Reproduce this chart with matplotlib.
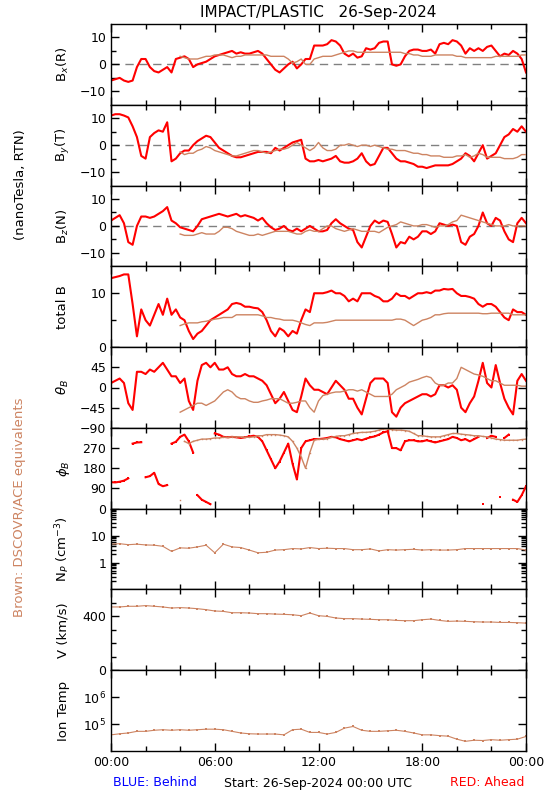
import numpy as np
import matplotlib
matplotlib.use("Agg")
import matplotlib.pyplot as plt
from matplotlib.ticker import FixedLocator, LogLocator, NullFormatter

nan = np.nan

# time grids in hours from 26-Sep-2024 00:00 UTC
t_mag = np.arange(97) * 0.25
t_pla = np.arange(49) * 0.5

# magnetic field, STEREO Ahead (red), 15 min samples
bx_red = [-6, -5.5, -5, -6, -6.5, -6, -1, 2, 2, -1, -2.5, -3, -2, -1, -3, 2,
          2.5, 3, 2, -1, 0, 0.5, 1, 2, 3, 3.5, 4, 4.5, 5, 4, 4.5, 4,
          4, 4.5, 5, 4, 2, 0, -2, -3, -1.5, 0, 1, -1.5, 0, 2, 2, 7,
          7, 7, 7.5, 9, 8.5, 7, 4, 3, 4, 2.5, 3, 6, 5.5, 6, 8, 8.5,
          8.5, 0, -0.5, 0, 3, 5, 5.5, 5.5, 5, 5, 5.5, 4, 7.5, 8, 7.5, 9,
          8.5, 7, 4, 6, 5, 6, 5, 6.5, 7, 5, 3, 4, 3.5, 5, 4, 2, -3]
by_red = [11, 11.5, 11.5, 11, 10.3, 7, 3, -4, -5, 3, 4.5, 5.5, 5, 8.5, -6, -5,
          -3, -2, -2, 0, 1.5, 2.5, 3.5, 3, 1, -1, -2, -3, -4, -4.5, -4.5, -4,
          -3.5, -3, -2.5, -2.5, -2.5, -3, -1, -2, -1, 0, 1, 1.5, 2, -5, -6, -6,
          -5.5, -6, -5.5, -5, -4, -6, -6.5, -6.5, -6, -5, -3, -6, -7.5, -7, -4, -1,
          -1, -3, -5, -6, -6, -6.5, -7, -8, -8, -8.5, -8, -7.5, -7.5, -7.5, -7.5, -7,
          -6, -5, -3, -4, -6, -3, 0, -5, -4, -3, 0, 3, 4, 6, 5, 7, 5]
bz_red = [2, 3, 4, 1, -6, -7, 0, 3.5, 3.5, 3, 3.5, 4.5, 5.5, 7, 2, 1,
          -0.5, -1, -1.5, -2, 0, 2.5, 3, 3.5, 4, 4.5, 4, 3.5, 4, 4.5, 3.5, 4,
          3.5, 3, 2, 3, 1, -0.5, -1.5, -1, 0, -1.5, -2, -1, -2, -1, 0, -1,
          -2, -2, -1.5, 1, 2.5, 1, 0, -1, -1.5, -6, -8, -4, 0, 2, 1, 2,
          1.5, -3, -8, -6, -6.5, -4, -5, -4, -2, -2, -3, -2, 1, 0.5, 0, 0.5,
          0, -6, -7, -4, -3, 0, 5, 1, 0, 3, 2, -2, -5, -6, 1, 3, 1]
bt_red = [12.8, 13, 13.2, 13.5, 13.5, 8, 2, 7, 5, 4, 6, 8, 6, 9, 6, 7,
          5.5, 5, 3, 1.5, 2.5, 3, 4, 5, 5.5, 6, 6.5, 7, 8, 8.2, 8, 7.5,
          7.5, 7.3, 7.2, 6.5, 5, 3, 2, 3.5, 3, 2, 3, 2.5, 5, 7, 6.5, 10,
          10, 10, 10.2, 10.5, 10, 10, 9.5, 8.5, 9, 8.5, 10, 10, 10, 9.5, 9.2, 8.5,
          8.5, 9, 10, 9.5, 9.5, 9, 9.5, 10, 10, 10.2, 10, 10.5, 10.5, 10.8, 10.7, 10.8,
          10, 9.5, 9.5, 9.3, 9, 8, 7.5, 8, 8, 7.5, 6.5, 5.5, 5, 7, 6.5, 6.5, 6]
th_red = [10, 15, 20, 10, -35, -50, 35, 35, 30, 40, 35, 45, 55, 40, 25, 25,
          10, 20, -30, -50, 15, 50, 55, 45, 55, 40, 40, 45, 30, 25, 25, 30,
          25, 25, 20, 15, 5, -15, -35, -25, -10, -30, -50, -55, -20, 20, 5, -5,
          -5, -10, -15, 0, 15, 5, -5, -25, -25, -45, -60, -25, 10, 20, 20, 20,
          10, -55, -65, -45, -35, -30, -25, -20, -15, -15, -20, -15, 5, 5, 0, 5,
          -5, -45, -55, -35, -20, 15, 55, 10, 0, 50, 10, -25, -45, -60, 15, 30, 15]
ph_red = [118, 117, 120, 125, 135, 290, 295, 296, 140, 145, 160, 110, 100, 105, 290, 298,
          320, 330, 300, 250, 60, 40, 30, 20, 335, 330, 320, 318, 320, 318, 315, 318,
          322, 325, 320, 300, 260, 220, 180, 210, 250, 290, 200, 130, 270, 300, 305, 310,
          310, 312, 315, 320, 318, 310, 305, 300, 305, 310, 305, 312, 318, 322, 330, 340,
          345, 270, 270, 260, 300, 305, 305, 300, 300, 305, 300, 295, 300, 305, 310, 320,
          315, 305, 310, 300, 310, 320, 20, 315, 325, 320, 50, 315, 330, 40, 30, 60, 100]

# DSCOVR/ACE equivalents (brown), 15 min samples, none before 04:00
gap = [nan] * 16
bx_brn = gap + [3, 2.5, 2, 2, 2, 2.5, 3, 3, 3.5, 3.5, 3.5, 3, 2.5, 3, 3, 3.5,
                3.5, 3.5, 3.5, 3.5, 3.5, 3, 3, 3, 3, 2, 0.5, 1, 2, 0, 0, 2,
                2.5, 3, 3, 3, 3.5, 4, 4.5, 5, 5, 4.5, 4.5, 4.5, 4.5, 4.5, 4.5, 4.5,
                4.5, 4.5, 4.5, 4.5, 4, 4, 3.5, 3.5, 3, 3, 3, 3.5, 3.5, 3.5, 3.5, 3.5,
                3, 3, 2.5, 2.5, 2.5, 2.5, 2.5, 2.5, 2.5, 3, 3, 3, 3, 3, 3, 3.5, 3.5]
by_brn = gap + [-2.5, -3.5, -3, -3, -2, -1.5, -0.5, -1, -2, -2.5, -3, -3.5, -4, -4, -3.5, -3,
                -2.5, -2, -2, -2.5, -3, -2.5, -2, -1.5, -1.5, -1, 0, 1, 0, -1, -2, -1,
                1, -1, -2, -2, -1.5, 0, 0, 0.5, 0, -0.5, 0, 0, -0.5, 0, -0.5, -1,
                -1.5, -1.5, -2, -2, -2, -2.5, -3, -3, -3.5, -3.5, -4, -4, -4, -4.5, -4.5, -4.5,
                -4, -4, -3.5, -4.5, -4, -3, -3.5, -4.5, -4.5, -4.5, -4.5, -5, -5, -5, -4.5, -3.5, -3.5]
bz_brn = gap + [-3, -3.5, -3.5, -3.5, -3, -2.5, -3, -3, -3, -2, -0.5, -0.5, -1, -2, -2.5, -3,
                -3.5, -3.5, -3, -3.5, -3, -2.5, -2, -2, -2, -2, -2.5, -3, -3, -2, -1.5, -2,
                -2, -1, 0, 0, -1, -1.5, -2, -1.5, -1, -1.5, -2, -2, -2, -2, -2.5, -1.5,
                -0.5, 0, 0.5, 1.5, 1, 0.5, 0, 0, 0.5, 0.5, 0, -0.5, 0, 0, 0.5, 1.5,
                2, 4, 3.5, 3, 2.5, 2, 1.5, 1, 0.5, 0, 0, 0, 0.5, 0, 0, 0, 0]
bt_brn = gap + [4, 4.3, 4.5, 4.5, 4.5, 4.7, 4.8, 5, 5.2, 5.3, 5.5, 5.5, 5.5, 6, 6, 6,
                6, 6, 6, 5.8, 5.5, 5.5, 5.3, 5.2, 5, 5, 5, 4.8, 4.5, 4.2, 4, 4.5,
                4.5, 4.5, 4.6, 4.8, 5, 5, 5, 5, 5, 5, 5, 5, 5, 5, 5, 5,
                5, 5, 5.2, 5.2, 5, 4.5, 4, 4.5, 5, 5.2, 5.5, 6, 6, 6.2, 6.3, 6.3,
                6.3, 6.3, 6.3, 6.3, 6.3, 6.3, 6.2, 6.2, 6.3, 6.3, 6.3, 6.3, 6.3, 6, 6, 6, 6]
th_brn = gap + [-55, -50, -45, -40, -35, -35, -40, -35, -30, -20, -10, -5, -10, -20, -25, -25,
                -30, -33, -33, -30, -28, -25, -25, -25, -30, -35, -35, -33, -30, -30, -45, -55,
                -30, -18, -15, -12, -10, -10, -8, -5, -5, -8, -5, -10, -15, -20, -20, -20,
                -20, -15, -5, 0, 5, 12, 15, 18, 22, 25, 22, 10, 5, 5, 10, 10,
                20, 45, 40, 35, 30, 28, 25, 20, 15, 15, 10, 5, 5, 5, 5, 3, 3]
ph_brn = gap + [40, 300, 290, 300, 305, 310, 310, 312, 315, 315, 318, 318, 320, 320, 320, 318,
                318, 320, 325, 325, 330, 330, 330, 328, 325, 320, 300, 270, 230, 180, 250, 305,
                310, 310, 312, 318, 322, 325, 325, 330, 335, 338, 340, 340, 342, 345, 350, 355,
                355, 352, 350, 350, 348, 345, 335, 325, 325, 322, 320, 320, 320, 325, 330, 335,
                335, 332, 330, 328, 325, 325, 322, 320, 315, 310, 308, 305, 305, 305, 305, 308, 310]

# plasma (brown only), 30 min samples
np_brn = [4.8, 5.0, 4.6, 4.8, 4.5, 4.4, 4.0, 2.6, 3.5, 3.4, 3.8, 4.4, 2.3, 4.8, 3.8, 3.6,
          2.9, 2.3, 2.4, 2.9, 3.0, 3.3, 3.2, 3.6, 3.3, 3.4, 3.3, 3.3, 3.0, 3.0, 3.2, 2.7,
          3.0, 2.9, 3.0, 3.1, 2.9, 3.0, 2.9, 2.9, 3.0, 3.3, 3.3, 3.3, 3.3, 3.3, 3.3, 3.3, 2.9]
v_brn = [470, 470, 475, 475, 480, 475, 470, 462, 465, 462, 457, 450, 440, 437, 427, 427,
         425, 420, 420, 417, 415, 412, 405, 425, 405, 400, 388, 383, 383, 380, 378, 375,
         375, 370, 368, 368, 375, 380, 370, 363, 365, 363, 360, 358, 358, 355, 355, 353, 350]
t_brn = [39800, 43600, 46800, 53700, 53700, 58900, 61700, 58900, 61700, 58900, 61700, 64600,
         64600, 61700, 53700, 46800, 43600, 42700, 42700, 42700, 39800, 61700, 64600, 49000,
         49000, 42700, 49000, 70800, 81300, 58900, 53700, 53700, 56200, 58900, 53700, 46800,
         39800, 39800, 37200, 35500, 27500, 22900, 25100, 24500, 26300, 25100, 26300, 27500, 34700]

RED = "#ff0000"
BROWN = "#cd8462"

W, H = 550, 800
left_px, right_px = 111, 526
top_px, bot_px = 24, 751
n_pan = 9
pan_h = (bot_px - top_px) / n_pan

fig = plt.figure(figsize=(W / 100, H / 100), dpi=100)
plt.rcParams["font.family"] = ["DejaVu Sans"]

labels = [r"B$_x$(R)", r"B$_y$(T)", r"B$_z$(N)", "total B", r"$\theta_B$",
          r"$\phi_B$", r"N$_P$ (cm$^{-3}$)", "V (km/s)", "Ion Temp"]


def make_axes(i):
    y0 = top_px + i * pan_h
    ax = fig.add_axes([left_px / W, 1 - (y0 + pan_h) / H,
                       (right_px - left_px) / W, pan_h / H])
    ax.set_xlim(0, 24)
    ax.xaxis.set_major_locator(FixedLocator([0, 6, 12, 18, 24]))
    ax.xaxis.set_minor_locator(FixedLocator([2, 4, 8, 10, 14, 16, 20, 22]))
    ax.tick_params(which="both", direction="in", top=True, right=True,
                   labelsize=9, width=1)
    ax.tick_params(which="major", length=6)
    ax.tick_params(which="minor", length=3.5)
    if i < n_pan - 1:
        ax.set_xticklabels([])
    else:
        ax.set_xticklabels(["00:00", "06:00", "12:00", "18:00", "00:00"])
    for s in ax.spines.values():
        s.set_linewidth(1)
    # panel label on the left
    fig.text(63 / W, 1 - (y0 + pan_h / 2) / H, labels[i], rotation=90,
             ha="center", va="center", fontsize=9.5)
    return ax


axes = [make_axes(i) for i in range(n_pan)]

# B components
for ax, red, brn in zip(axes[:3], [bx_red, by_red, bz_red], [bx_brn, by_brn, bz_brn]):
    ax.axhline(0, color="#808080", lw=1, ls=(0, (6, 4)), zorder=1)
    ax.plot(t_mag, red, color=RED, lw=1.5, zorder=2)
    ax.plot(t_mag, brn, color=BROWN, lw=1.0, zorder=3)
    ax.set_ylim(-15, 15)
    ax.yaxis.set_major_locator(FixedLocator([-10, 0, 10]))
    ax.yaxis.set_minor_locator(FixedLocator([-5, 5]))

# total B
ax = axes[3]
ax.plot(t_mag, bt_red, color=RED, lw=1.5)
ax.plot(t_mag, bt_brn, color=BROWN, lw=1.0)
ax.set_ylim(0, 15)
ax.yaxis.set_major_locator(FixedLocator([0, 10]))
ax.yaxis.set_minor_locator(FixedLocator([5]))

# theta
ax = axes[4]
ax.plot(t_mag, th_red, color=RED, lw=1.5)
ax.plot(t_mag, th_brn, color=BROWN, lw=1.0)
ax.set_ylim(-90, 90)
ax.yaxis.set_major_locator(FixedLocator([-90, -45, 0, 45]))

# phi, with the 0/360 wrap jumps left open
ax = axes[5]
for vals, col, lw, ms in [(ph_red, RED, 1.5, 1.6), (ph_brn, BROWN, 1.0, 1.0)]:
    v = np.array(vals, dtype=float)
    seg_start = 0
    for k in range(1, len(v)):
        if abs(v[k] - v[k - 1]) > 150:
            ax.plot(t_mag[seg_start:k], v[seg_start:k], color=col, lw=lw,
                    marker="s", ms=ms, mew=0)
            seg_start = k
    ax.plot(t_mag[seg_start:], v[seg_start:], color=col, lw=lw,
            marker="s", ms=ms, mew=0)
ax.set_ylim(0, 360)
ax.yaxis.set_major_locator(FixedLocator([0, 90, 180, 270]))

# density
ax = axes[6]
ax.plot(t_pla, np_brn, color=BROWN, lw=0.8, marker="s", ms=1.5, mew=0)
ax.set_yscale("log")
ax.set_ylim(0.1, 100)
ax.yaxis.set_major_locator(FixedLocator([1, 10]))
ax.yaxis.set_minor_locator(LogLocator(base=10, subs=np.arange(2, 10)))
ax.yaxis.set_minor_formatter(NullFormatter())
ax.set_yticklabels(["1", "10"])

# speed
ax = axes[7]
ax.plot(t_pla, v_brn, color=BROWN, lw=0.8, marker="s", ms=1.5, mew=0)
ax.set_ylim(0, 600)
ax.yaxis.set_major_locator(FixedLocator([0, 400]))
ax.yaxis.set_minor_locator(FixedLocator([100, 200, 300, 500]))

# ion temperature
ax = axes[8]
ax.plot(t_pla, t_brn, color=BROWN, lw=0.8, marker="s", ms=1.5, mew=0)
ax.set_yscale("log")
ax.set_ylim(1e4, 1e7)
ax.yaxis.set_major_locator(FixedLocator([1e5, 1e6]))
ax.yaxis.set_minor_locator(FixedLocator([]))
ax.set_yticklabels([r"10$^5$", r"10$^6$"])

# titles and side notes
fig.text(318 / W, 1 - 12 / H, "IMPACT/PLASTIC   26-Sep-2024", ha="center",
         va="center", fontsize=11)
fig.text(21 / W, 1 - 185 / H, "(nanoTesla, RTN)", rotation=90, ha="center",
         va="center", fontsize=9.5)
fig.text(20 / W, 1 - 507 / H, "Brown: DSCOVR/ACE equivalents", rotation=90,
         ha="center", va="center", fontsize=9.5, color=BROWN)
fig.text(155 / W, 1 - 783 / H, "BLUE: Behind", ha="center", va="center",
         fontsize=9, color="#0000ff")
fig.text(318 / W, 1 - 783 / H, "Start: 26-Sep-2024 00:00 UTC", ha="center",
         va="center", fontsize=9)
fig.text(487 / W, 1 - 783 / H, "RED: Ahead", ha="center", va="center",
         fontsize=9, color=RED)

fig.savefig("out.png", dpi=100)
